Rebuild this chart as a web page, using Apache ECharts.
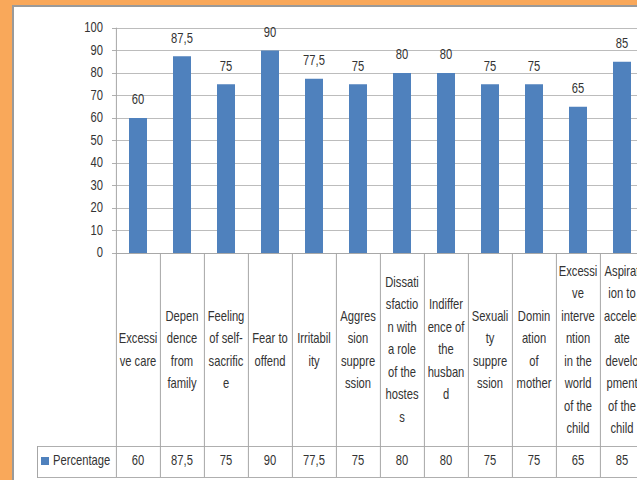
<!DOCTYPE html>
<html>
<head>
<meta charset="utf-8">
<script src="https://cdn.jsdelivr.net/npm/echarts@6/dist/echarts.min.js"></script>
<style>
  html, body { margin:0; padding:0; width:637px; height:480px; overflow:hidden; background:#F9A85A; }
  #panel { position:absolute; left:12px; top:5px; width:700px; height:500px; background:#fff;
           border-left:2px solid #9a9a9a; border-top:2px solid #9a9a9a; }
  /* the reference is horizontally compressed; reproduce by scaling the chart in x */
  #chart { position:absolute; left:0; top:0; width:880px; height:480px;
           transform: scaleX(0.8); transform-origin: 0 0; }
</style>
</head>
<body>
<div id="panel"></div>
<div id="chart"></div>
<script>
// Category labels as wrapped in the data table
const categories = [
  "Excessi\nve care",
  "Depen\ndence\nfrom\nfamily",
  "Feeling\nof self-\nsacrific\ne",
  "Fear to\noffend",
  "Irritabil\nity",
  "Aggres\nsion\nsuppre\nssion",
  "Dissati\nsfactio\nn with\na role\nof the\nhostes\ns",
  "Indiffer\nence of\nthe\nhusban\nd",
  "Sexuali\nty\nsuppre\nssion",
  "Domin\nation\nof\nmother",
  "Excessi\nve\ninterve\nntion\nin the\nworld\nof the\nchild",
  "Aspirat\nion to\nacceler\nate\ndevelo\npment\nof the\nchild"
];
const percentage = [60, 87.5, 75, 90, 77.5, 75, 80, 80, 75, 75, 65, 85];
const yTicks = { min: 0, max: 100, interval: 10 };
const seriesName = "Percentage";

const fmt = v => String(v).replace('.', ',');
const valueLabels = percentage.map(fmt);

const S = 0.8; // horizontal squeeze of the container
const px = x => x / S; // page x -> chart x

const FONT = "'Liberation Sans', Arial, sans-serif";
const TXT = '#333333';
const LINE = '#A6A6A6';

const chart = echarts.init(document.getElementById('chart'), null, { renderer: 'svg' });
chart.setOption({
  animation: false,
  textStyle: { fontFamily: FONT, color: TXT },
  grid: { left: px(116), top: 28, width: px(528), height: 225 },
  legend: {
    left: px(41), top: 454, itemWidth: px(8), itemHeight: 8, padding: 0,
    icon: 'rect',
    textStyle: { fontFamily: FONT, fontSize: 14, color: TXT },
    data: [seriesName]
  },
  xAxis: [
    {
      type: 'category', data: categories, position: 'bottom',
      axisLine: { lineStyle: { color: LINE, width: 1 } },
      axisTick: { show: true, interval: 0, length: 224, lineStyle: { color: LINE, width: 1.25 } },
      axisLabel: {
        interval: 0, margin: 97, verticalAlign: 'middle', align: 'center',
        lineHeight: 22.5, fontSize: 14, fontFamily: FONT, color: TXT, hideOverlap: false
      }
    },
    {
      type: 'category', data: valueLabels, position: 'bottom',
      axisLine: { show: false }, axisTick: { show: false },
      axisLabel: {
        interval: 0, margin: 208, verticalAlign: 'middle', align: 'center',
        fontSize: 14, fontFamily: FONT, color: TXT
      }
    }
  ],
  yAxis: {
    type: 'value', min: yTicks.min, max: yTicks.max, interval: yTicks.interval,
    axisLine: { show: true, lineStyle: { color: LINE, width: 1.25 } },
    axisTick: { show: true, length: px(4), lineStyle: { color: LINE } },
    axisLabel: { margin: px(13), fontSize: 14, fontFamily: FONT, color: TXT },
    splitLine: { lineStyle: { color: '#B4B4B4' } }
  },
  series: [{
    name: seriesName, type: 'bar', xAxisIndex: 0, data: percentage,
    barWidth: px(18),
    itemStyle: { color: '#4F81BD' },
    label: { show: true, position: 'top', distance: 11, fontSize: 14, fontFamily: FONT, color: TXT,
             formatter: p => fmt(p.value) }
  }],
  graphic: [
    { type: 'line', shape: { x1: px(37), y1: 446.5, x2: px(720), y2: 446.5 }, style: { stroke: LINE, lineWidth: 1 } },
    { type: 'line', shape: { x1: px(37), y1: 477.5, x2: px(720), y2: 477.5 }, style: { stroke: LINE, lineWidth: 1 } },
    { type: 'line', shape: { x1: px(37.5), y1: 446, x2: px(37.5), y2: 478 }, style: { stroke: LINE, lineWidth: 1.25 } }
  ]
});
</script>
</body>
</html>
